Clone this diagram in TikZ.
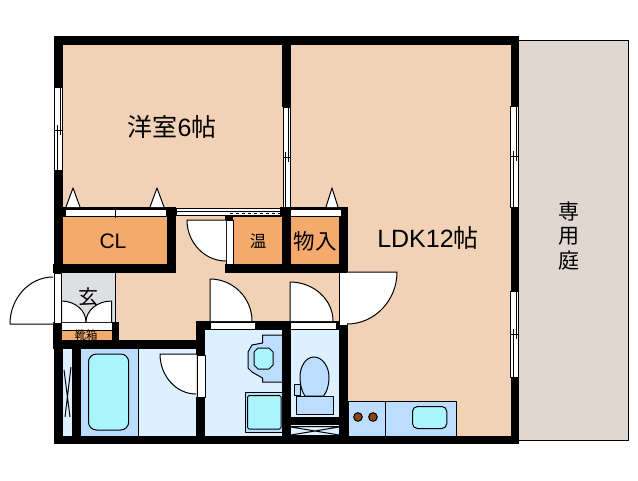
\documentclass[tikz,border=0pt]{standalone}
\usepackage{fontspec}
\setmainfont{Liberation Sans}
\newfontfamily\jpfont{Noto Sans CJK JP}
\definecolor{wood}{HTML}{F2D2B6}
\definecolor{storage}{HTML}{F4AA6C}
\definecolor{entry}{HTML}{DDDFE2}
\definecolor{wet}{HTML}{DDF0FF}
\definecolor{fixture}{HTML}{BBDDFF}
\definecolor{water}{HTML}{AAF5FF}
\definecolor{garden}{HTML}{E0D8D0}
\definecolor{burner}{HTML}{8B4513}
\tikzset{
  panel/.style={fill=white,draw=black,line width=1pt},
  fixt/.style={draw=black,line width=1pt},
  label/.style={inner sep=0pt,font=\jpfont\fontsize{25}{25}\selectfont},
  smalllabel/.style={inner sep=0pt,font=\jpfont\fontsize{16.5}{17}\selectfont}
}
\begin{document}
\begin{tikzpicture}[x=1pt,y=-1pt,line join=round,line width=1pt]
  \useasboundingbox (0,0) rectangle (638,480);
  % floors
  \foreach \xa/\ya/\xb/\yb/\c in {63/45/511/436/wood,63/217/167/264/storage,233/217/282/264/storage,291/217/339/264/storage,
    61/273/115.5/323/entry,62/331/112/340/storage,63/349/72/436/wet,81/349/138.5/436/fixture,138.5/349/196/436/wet,
    205/330/282/436/wet,291/330/339/417/wet,291/425/339/436/wet}
  \fill[\c] (\xa,\ya) rectangle (\xb,\yb);
  \draw (115.5,273)--(115.5,323) (138.5,349)--(138.5,436);
  \draw[fill=garden] (518.5,40.5) rectangle (628.5,440.5);
  % bath
  \draw[fixt,fill=water,rounded corners=8pt] (88.5,354) rectangle (128.7,430);
  \draw (64,370)--(70,417) (71,367)--(65,417);
  % sink and washer
  \draw[fixt,fill=fixture] (282,335)--(262.5,335)--(262.5,343)--(252,345)--(248,352)--(248,368)--(252,372)--(262.5,378)--(262.5,382)--(282,382);
  \draw[fixt,fill=water] (254,352)--(258,348)--(269,348)--(273,352)--(273,365)--(269,369)--(258,369)--(254,365)--cycle;
  \draw[fixt,fill=fixture] (245,392.5) rectangle (282,432);
  \draw[fixt,fill=water,rounded corners=1.5pt] (247.5,395.5) rectangle (281,429);
  % toilet
  \draw[fixt,fill=fixture] (314,357) .. controls (306,357) and (300,366) .. (300,377) .. controls (300,385) and (302,392) .. (305,396) -- (323.5,396) .. controls (327,392) and (329,385) .. (329,377) .. controls (329,366) and (322,357) .. (314,357) -- cycle;
  \draw[fixt,fill=fixture] (294.5,384.5) rectangle (300.5,395.5);
  \draw[fixt,fill=fixture] (296.5,396) rectangle (333,414);
  \draw (291,427)--(339,435) (291,435)--(339,427) (291,426.5)--(339,426.5) (291,435.5)--(339,435.5);
  % kitchen
  \draw[fixt,fill=fixture] (348,401.5) rectangle (456.7,436);
  \draw (385.3,401.5)--(385.3,436);
  \foreach \x in {358,373}
  \draw[fill=burner] (\x,417) circle (4.3);
  \draw[fixt,fill=water,rounded corners=5pt] (412.5,406.5) rectangle (446.8,428.5);
  % walls
  \foreach \xa/\ya/\xb/\yb in {54/36/519/45,54/36/63/87,54/170/63/273,53/264/176/273,53/322/62/349,54/349/63/444,
    63/207/176/209,63/207/65/217,167/207/176/273,112/322/119/340,53/340/205/349,196/321/348/330,196/321/205/355,196/397/205/444,
    72/349/81/436,54/436/519/444,282/45/291/107,282/207/291/273,225/264/348/273,227/213/282/217,225/213/233/220,
    280/207/291/216,291/207/348/209,339/207/348/272,339/325/348/444,291/417/339/425,282/330/291/444,
    511/36/519/106,511/207/519/291,511/377/519/444}
  \fill (\xa,\ya) rectangle (\xb,\yb);
  % door panels and closet doors
  \foreach \xa/\ya/\xb/\yb in {210/322/255/329,290/322/336/329,226/220/233/264,339.5/272/347/325,197/355/205/397,
    54/273/61/323,61/322/112/330,65/209/166/216,290/209/341/216,176/208/280/215.5}
  \draw[panel] (\xa,\ya) rectangle (\xb,\yb);
  \draw (115.5,207)--(115.5,218) (176,211.5)--(280,211.5);
  \draw[dashed] (230,213.5)--(280,213.5);
  % windows
  \foreach \xa/\ya/\ym/\yb in {54.5/87/130/170,283/107/157/207,510.5/106/156/207,510.5/291/334/377}{
    \draw[panel] (\xa,\ya) rectangle (\xa+7.5,\yb);
    \draw (\xa+2.5,\ym-5)--(\xa+2.5,\yb) (\xa+5.5,\ya)--(\xa+5.5,\ym+5) (\xa,\ym)--(\xa+7.5,\ym);
  }
  % doors, leaf along x
  \foreach \hx/\hy/\rx/\ry in {53/324/-43/-47,226/220/-39/41,347/272/50/52,196/354/-36/40}{
    \fill[white] (\hx,\hy)--++(\rx,0) .. controls +(0,.55*\ry) and +(.55*\rx,0) .. ++(-\rx,\ry)--cycle;
    \draw (\hx,\hy)--++(\rx,0) .. controls +(0,.55*\ry) and +(.55*\rx,0) .. ++(-\rx,\ry);
  }
  % doors, leaf along y
  \foreach \hx/\hy/\rx/\ry in {210/321/42/-42,290/321/43/-39,61.5/322/24.5/-21,111.5/322/-25.5/-21}{
    \fill[white] (\hx,\hy)--++(0,\ry) .. controls +(.55*\rx,0) and +(0,.55*\ry) .. ++(\rx,-\ry)--cycle;
    \draw (\hx,\hy)--++(0,\ry) .. controls +(.55*\rx,0) and +(0,.55*\ry) .. ++(\rx,-\ry);
  }
  % hooks
  \foreach \x/\w in {73/7,157/7,332/6}
  \draw[fill=white] (\x-\w,207)--(\x,188)--(\x+\w,207);
  % labels
  \node[label] (bedroom) at (172,126.5) {洋室{\fontspec{Liberation Sans}6}帖};
  \node[label] (ldk) at (428,238.5) {{\fontspec{Liberation Sans}LDK12}帖};
  \node[smalllabel,font=\fontsize{21}{21}\selectfont] (cl) at (113,241) {CL};
  \node[smalllabel] (heater) at (258,241) {温};
  \node[smalllabel,font=\jpfont\fontsize{21.5}{22}\selectfont] (closet) at (315,241) {物入};
  \node[smalllabel,font=\jpfont\fontsize{20}{20}\selectfont] (entrance) at (88,297) {玄};
  \node[smalllabel,font=\jpfont\fontsize{11.5}{12}\selectfont] (shoes) at (86,335.5) {靴箱};
  \foreach \c/\y/\n in {専/212/a,用/236/b,庭/261/c}
  \node[smalllabel,font=\jpfont\fontsize{21}{21}\selectfont] (garden\n) at (569,\y) {\c};
\end{tikzpicture}
\end{document}
